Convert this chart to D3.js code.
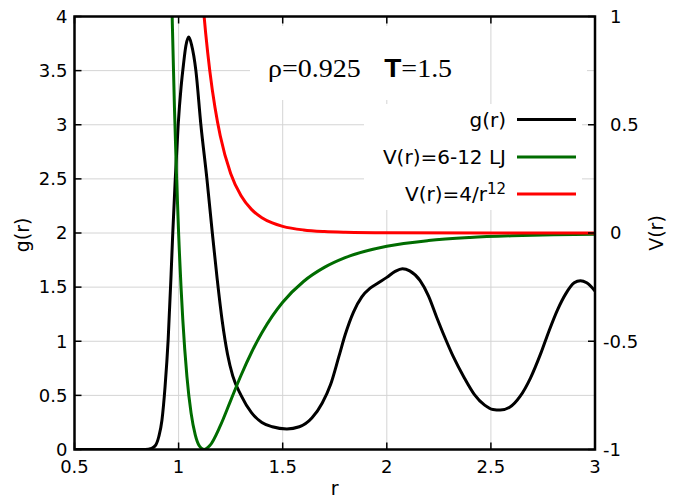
<!DOCTYPE html>
<html>
<head>
<meta charset="utf-8">
<script src="https://d3js.org/d3.v7.min.js"></script>
<style>
  body { margin: 0; background: #fff; }
  text { font-family: "DejaVu Sans", sans-serif; }
</style>
</head>
<body>
<div id="chart"></div>
<script>
// g(r)
var gR   = [0.50, 0.84, 0.87, 0.89, 0.905, 0.92, 0.935, 0.95, 0.964, 0.972, 0.984, 0.998, 1.012, 1.023, 1.035, 1.049,
            1.062, 1.083, 1.107, 1.136, 1.162, 1.185, 1.21, 1.235, 1.26, 1.30, 1.35, 1.40, 1.45, 1.52, 1.58, 1.64,
            1.69, 1.73, 1.77, 1.80, 1.84, 1.88, 1.92, 1.96, 2.00, 2.04, 2.075, 2.11, 2.16, 2.20, 2.24, 2.28, 2.32,
            2.37, 2.42, 2.47, 2.51, 2.545, 2.59, 2.64, 2.69, 2.74, 2.78, 2.82, 2.86, 2.90, 2.93, 2.96, 3.00];
var gVal = [0, 0, 0.01, 0.04, 0.12, 0.27, 0.58, 1.02, 1.62, 2.0, 2.5, 3.0, 3.35, 3.55, 3.73, 3.81,
            3.74, 3.5, 3.0, 2.5, 2.0, 1.58, 1.18, 0.88, 0.68, 0.50, 0.34, 0.25, 0.21, 0.19, 0.21, 0.29,
            0.43, 0.60, 0.86, 1.06, 1.27, 1.41, 1.49, 1.54, 1.59, 1.645, 1.67, 1.65, 1.56, 1.42, 1.22, 1.03, 0.855,
            0.67, 0.51, 0.41, 0.37, 0.365, 0.39, 0.49, 0.66, 0.89, 1.10, 1.29, 1.44, 1.54, 1.56, 1.54, 1.465];

// V(r) 6-12 LJ (right axis)
var ljR = [0.96, 0.97, 0.98, 0.99, 1.0, 1.02, 1.04, 1.06, 1.08, 1.10, 1.122, 1.15, 1.2, 1.25, 1.3, 1.35, 1.4,
           1.45, 1.5, 1.6, 1.7, 1.8, 2.0, 2.2, 2.4, 2.6, 2.8, 3.0];
var ljV = [1.418, 0.963, 0.582, 0.264, 0, -0.398, -0.663, -0.832, -0.932, -0.984, -1.0, -0.982, -0.891, -0.774,
           -0.657, -0.552, -0.461, -0.384, -0.320, -0.224, -0.159, -0.114, -0.0615, -0.035, -0.021, -0.013, -0.008, -0.0055];

// V(r) = 4/r^12 (right axis)
var repR = [1.10, 1.12, 1.13, 1.15, 1.175, 1.2, 1.25, 1.3, 1.35, 1.4, 1.45, 1.5, 1.6, 1.7, 1.8, 2.0, 2.5, 3.0];
var repV = [1.2745, 1.027, 0.923, 0.748, 0.578, 0.449, 0.275, 0.172, 0.109, 0.0706, 0.0463, 0.0308, 0.0142,
            0.00686, 0.0035, 0.001, 0.00007, 0];

var xTicks = [0.5, 1, 1.5, 2, 2.5, 3];
var gTicks = [0, 0.5, 1, 1.5, 2, 2.5, 3, 3.5, 4];
var vTicks = [-1, -0.5, 0, 0.5, 1];

var width = 681, height = 500;
var pL = 74.5, pR = 595, pT = 16.5, pB = 449.5;
var tickLen = 7;

var svg = d3.select("#chart")
    .append("svg")
    .attr("width", width)
    .attr("height", height);

var x = d3.scaleLinear().domain([0.5, 3]).range([pL, pR]);
var yG = d3.scaleLinear().domain([0, 4]).range([pB, pT]);
var yV = d3.scaleLinear().domain([-1, 1]).range([pB, pT]);

svg.append("clipPath").attr("id", "plotclip")
    .append("rect")
    .attr("x", pL).attr("y", pT)
    .attr("width", pR - pL).attr("height", pB - pT);

// grid
var grid = svg.append("g").attr("stroke", "#d4d4d4").attr("stroke-width", 1);
grid.selectAll(".hg").data(gTicks.slice(1, -1)).enter()
    .append("line")
    .attr("x1", pL).attr("x2", pR)
    .attr("y1", function(d){ return yG(d); })
    .attr("y2", function(d){ return yG(d); });

// title box hides the horizontal grid behind it
svg.append("rect").attr("x", 250).attr("y", 26).attr("width", 337).attr("height", 74).attr("fill", "#fff");

grid = svg.append("g").attr("stroke", "#d4d4d4").attr("stroke-width", 1);
grid.selectAll(".vg").data(xTicks.slice(1, -1)).enter()
    .append("line")
    .attr("y1", pT).attr("y2", pB)
    .attr("x1", function(d){ return x(d); })
    .attr("x2", function(d){ return x(d); });

svg.append("rect").attr("x", 250).attr("y", 26).attr("width", 225).attr("height", 74).attr("fill", "#fff");
// key box
svg.append("rect").attr("x", 364).attr("y", 104).attr("width", 218).attr("height", 106).attr("fill", "#fff");

// curves
var plot = svg.append("g").attr("clip-path", "url(#plotclip)");

var gData = gR.map(function(r, i){ return [r, gVal[i]]; });
var ljData = ljR.map(function(r, i){ return [r, ljV[i]]; });
var repData = repR.map(function(r, i){ return [r, repV[i]]; });

var lineG = d3.line()
    .x(function(d){ return x(d[0]); })
    .y(function(d){ return yG(d[1]); })
    .curve(d3.curveMonotoneX);
var lineV = d3.line()
    .x(function(d){ return x(d[0]); })
    .y(function(d){ return yV(d[1]); })
    .curve(d3.curveMonotoneX);

plot.append("path").datum(gData)
    .attr("d", lineG)
    .attr("fill", "none").attr("stroke", "#000").attr("stroke-width", 3);
plot.append("path").datum(ljData)
    .attr("d", lineV)
    .attr("fill", "none").attr("stroke", "#006c00").attr("stroke-width", 3);
plot.append("path").datum(repData)
    .attr("d", lineV)
    .attr("fill", "none").attr("stroke", "#ff0000").attr("stroke-width", 3);

// frame
svg.append("rect")
    .attr("x", pL).attr("y", pT)
    .attr("width", pR - pL).attr("height", pB - pT)
    .attr("fill", "none").attr("stroke", "#000").attr("stroke-width", 2.5);

// ticks (inward)
var ticks = svg.append("g").attr("stroke", "#000").attr("stroke-width", 1.5);
xTicks.forEach(function(d){
    ticks.append("line").attr("x1", x(d)).attr("x2", x(d)).attr("y1", pB).attr("y2", pB - tickLen);
    ticks.append("line").attr("x1", x(d)).attr("x2", x(d)).attr("y1", pT).attr("y2", pT + tickLen);
});
gTicks.forEach(function(d){
    ticks.append("line").attr("x1", pL).attr("x2", pL + tickLen).attr("y1", yG(d)).attr("y2", yG(d));
});
vTicks.forEach(function(d){
    ticks.append("line").attr("x1", pR).attr("x2", pR - tickLen).attr("y1", yV(d)).attr("y2", yV(d));
});

// tick labels
var fs = 18;
svg.selectAll(".xl").data(xTicks).enter()
    .append("text")
    .attr("x", function(d){ return x(d); })
    .attr("y", pB + 23)
    .attr("text-anchor", "middle")
    .style("font-size", fs + "px")
    .text(function(d){ return d; });

svg.selectAll(".gl").data(gTicks).enter()
    .append("text")
    .attr("x", pL - 7)
    .attr("y", function(d){ return yG(d); })
    .attr("dy", "0.35em")
    .attr("text-anchor", "end")
    .style("font-size", fs + "px")
    .text(function(d){ return d; });

svg.selectAll(".vl").data(vTicks).enter()
    .append("text")
    .attr("x", function(d){ return d < 0 ? pR + 8 : pR + 15; })
    .attr("y", function(d){ return yV(d); })
    .attr("dy", "0.35em")
    .attr("text-anchor", "start")
    .style("font-size", fs + "px")
    .text(function(d){ return d; });

// axis titles
svg.append("text")
    .attr("transform", "translate(29,235) rotate(-90)")
    .attr("text-anchor", "middle")
    .style("font-size", "19px")
    .text("g(r)");
svg.append("text")
    .attr("transform", "translate(663,233) rotate(-90)")
    .attr("text-anchor", "middle")
    .style("font-size", "19px")
    .text("V(r)");
svg.append("text")
    .attr("x", (pL + pR) / 2)
    .attr("y", 495)
    .attr("text-anchor", "middle")
    .style("font-size", "19px")
    .text("r");

// state label (a little wider than Liberation Serif)
var lab = svg.append("text")
    .attr("transform", "translate(268,77) scale(1.12,1)")
    .style("font-family", "'Liberation Serif', serif")
    .style("font-size", "25px");
lab.append("tspan").text("ρ=0.925");
lab.append("tspan").attr("dx", 21)
    .style("font-family", "'Liberation Sans', sans-serif")
    .style("font-weight", "bold")
    .text("T");
lab.append("tspan").text("=1.5");

// key
var keyNames = ["g(r)", "V(r)=6-12 LJ", "V(r)=4/r"];
var keyColors = ["#000", "#006c00", "#ff0000"];
var keyY = [119.5, 157, 194];

keyNames.forEach(function(name, i){
    var t = svg.append("text")
        .attr("x", 506)
        .attr("y", keyY[i])
        .attr("dy", "0.35em")
        .attr("text-anchor", "end")
        .style("font-size", "20px");
    t.append("tspan").text(name);
    if (i == 2) {
        t.append("tspan").attr("dy", "-0.45em").style("font-size", "15px").text("12");
    }
    svg.append("line")
        .attr("x1", 517).attr("x2", 576)
        .attr("y1", keyY[i]).attr("y2", keyY[i])
        .attr("stroke", keyColors[i]).attr("stroke-width", 3);
});
</script>
</body>
</html>
